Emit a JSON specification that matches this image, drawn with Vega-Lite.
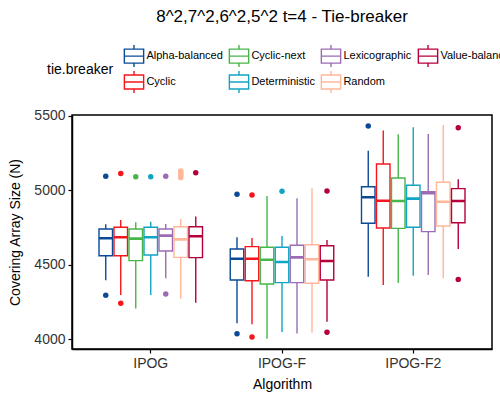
{
  "$schema": "https://vega.github.io/schema/vega-lite/v6.json",
  "width": 420,
  "height": 234,
  "autosize": {"type": "none"},
  "padding": {"left": 72, "top": 115, "right": 8, "bottom": 51},
  "title": {"text": "8^2,7^2,6^2,5^2 t=4 - Tie-breaker", "fontSize": 17, "fontWeight": "normal", "font": "Liberation Sans", "anchor": "middle", "frame": "group", "baseline": "alphabetic", "offset": 5, "color": "black"},
  "config": {
    "font": "Liberation Sans",
    "view": {"stroke": "black", "strokeWidth": 1.5},
    "axis": {"grid": false, "domainColor": "black", "domainWidth": 1.5, "tickColor": "black", "tickSize": 4, "tickWidth": 1.2, "labelFontSize": 14, "labelColor": "#333333", "titleFontSize": 14, "titleFontWeight": "normal", "titleColor": "black", "labelFont": "Liberation Sans", "titleFont": "Liberation Sans"}
  },
  "datasets": {
    "boxes": [
      {"algorithm": "IPOG", "tie": "Alpha-balanced", "lower": 4395, "q1": 4560, "median": 4677, "q3": 4740, "upper": 4771},
      {"algorithm": "IPOG", "tie": "Cyclic", "lower": 4296, "q1": 4560, "median": 4684, "q3": 4751, "upper": 4800},
      {"algorithm": "IPOG", "tie": "Cyclic-next", "lower": 4206, "q1": 4527, "median": 4675, "q3": 4740, "upper": 4785},
      {"algorithm": "IPOG", "tie": "Deterministic", "lower": 4296, "q1": 4565, "median": 4684, "q3": 4751, "upper": 4789},
      {"algorithm": "IPOG", "tie": "Lexicographic", "lower": 4408, "q1": 4592, "median": 4695, "q3": 4740, "upper": 4773},
      {"algorithm": "IPOG", "tie": "Random", "lower": 4271, "q1": 4549, "median": 4670, "q3": 4755, "upper": 4807},
      {"algorithm": "IPOG", "tie": "Value-balanced", "lower": 4244, "q1": 4547, "median": 4691, "q3": 4755, "upper": 4823},
      {"algorithm": "IPOG-F", "tie": "Alpha-balanced", "lower": 4106, "q1": 4397, "median": 4540, "q3": 4605, "upper": 4684},
      {"algorithm": "IPOG-F", "tie": "Cyclic", "lower": 4099, "q1": 4392, "median": 4540, "q3": 4621, "upper": 4679},
      {"algorithm": "IPOG-F", "tie": "Cyclic-next", "lower": 4002, "q1": 4370, "median": 4533, "q3": 4617, "upper": 4962},
      {"algorithm": "IPOG-F", "tie": "Deterministic", "lower": 4047, "q1": 4379, "median": 4518, "q3": 4617, "upper": 4693},
      {"algorithm": "IPOG-F", "tie": "Lexicographic", "lower": 4038, "q1": 4379, "median": 4549, "q3": 4630, "upper": 4946},
      {"algorithm": "IPOG-F", "tie": "Random", "lower": 4043, "q1": 4375, "median": 4536, "q3": 4634, "upper": 5013},
      {"algorithm": "IPOG-F", "tie": "Value-balanced", "lower": 4116, "q1": 4397, "median": 4525, "q3": 4627, "upper": 4666},
      {"algorithm": "IPOG-F2", "tie": "Alpha-balanced", "lower": 4419, "q1": 4778, "median": 4953, "q3": 5024, "upper": 5266},
      {"algorithm": "IPOG-F2", "tie": "Cyclic", "lower": 4363, "q1": 4746, "median": 4930, "q3": 5177, "upper": 5401},
      {"algorithm": "IPOG-F2", "tie": "Cyclic-next", "lower": 4377, "q1": 4744, "median": 4928, "q3": 5083, "upper": 5377},
      {"algorithm": "IPOG-F2", "tie": "Deterministic", "lower": 4426, "q1": 4751, "median": 4944, "q3": 5034, "upper": 5424},
      {"algorithm": "IPOG-F2", "tie": "Lexicographic", "lower": 4430, "q1": 4722, "median": 4980, "q3": 4991, "upper": 5379},
      {"algorithm": "IPOG-F2", "tie": "Random", "lower": 4408, "q1": 4760, "median": 4923, "q3": 5054, "upper": 5439},
      {"algorithm": "IPOG-F2", "tie": "Value-balanced", "lower": 4605, "q1": 4782, "median": 4928, "q3": 5011, "upper": 5074}
    ],
    "outliers": [
      {"algorithm": "IPOG", "tie": "Alpha-balanced", "value": 4294},
      {"algorithm": "IPOG", "tie": "Alpha-balanced", "value": 5094},
      {"algorithm": "IPOG", "tie": "Cyclic", "value": 4240},
      {"algorithm": "IPOG", "tie": "Cyclic", "value": 5112},
      {"algorithm": "IPOG", "tie": "Cyclic-next", "value": 5091},
      {"algorithm": "IPOG", "tie": "Deterministic", "value": 5091},
      {"algorithm": "IPOG", "tie": "Lexicographic", "value": 4303},
      {"algorithm": "IPOG", "tie": "Lexicographic", "value": 5094},
      {"algorithm": "IPOG", "tie": "Random", "value": 5085},
      {"algorithm": "IPOG", "tie": "Random", "value": 5097},
      {"algorithm": "IPOG", "tie": "Random", "value": 5108},
      {"algorithm": "IPOG", "tie": "Random", "value": 5120},
      {"algorithm": "IPOG", "tie": "Random", "value": 5130},
      {"algorithm": "IPOG", "tie": "Value-balanced", "value": 5118},
      {"algorithm": "IPOG-F", "tie": "Alpha-balanced", "value": 4036},
      {"algorithm": "IPOG-F", "tie": "Alpha-balanced", "value": 4973},
      {"algorithm": "IPOG-F", "tie": "Cyclic", "value": 4013},
      {"algorithm": "IPOG-F", "tie": "Cyclic", "value": 4968},
      {"algorithm": "IPOG-F", "tie": "Deterministic", "value": 4993},
      {"algorithm": "IPOG-F", "tie": "Value-balanced", "value": 4045},
      {"algorithm": "IPOG-F", "tie": "Value-balanced", "value": 4995},
      {"algorithm": "IPOG-F2", "tie": "Alpha-balanced", "value": 5432},
      {"algorithm": "IPOG-F2", "tie": "Value-balanced", "value": 5421},
      {"algorithm": "IPOG-F2", "tie": "Value-balanced", "value": 4401}
    ]
  },
  "encoding": {
    "x": {"field": "algorithm", "type": "nominal", "title": "Algorithm",
          "scale": {"domain": ["IPOG", "IPOG-F", "IPOG-F2"], "paddingInner": 0, "paddingOuter": 0.1},
          "axis": {"labelAngle": 0, "labelPadding": 3, "titlePadding": 7}},
    "xOffset": {"field": "tie", "type": "nominal",
          "scale": {"domain": ["Alpha-balanced", "Cyclic", "Cyclic-next", "Deterministic", "Lexicographic", "Random", "Value-balanced"], "paddingInner": 0.1, "paddingOuter": 0.925}}
  },
  "layer": [
    {
      "data": {"name": "boxes"},
      "mark": {"type": "rule", "strokeWidth": 1.4},
      "encoding": {
        "y": {"field": "lower", "type": "quantitative", "title": "Covering Array Size (N)",
              "scale": {"domain": [3933, 5506], "nice": false, "zero": false},
              "axis": {"values": [4000, 4500, 5000, 5500], "format": "d", "labelPadding": 3, "titlePadding": 11}},
        "y2": {"field": "upper"},
        "stroke": {"field": "tie", "type": "nominal", "legend": null,
                   "scale": {"domain": ["Alpha-balanced", "Cyclic", "Cyclic-next", "Deterministic", "Lexicographic", "Random", "Value-balanced"],
                             "range": ["#0a4a96", "#f5161b", "#47b548", "#12a4c3", "#9b6cb4", "#ffb799", "#b5003a"]}}
      }
    },
    {
      "data": {"name": "boxes"},
      "mark": {"type": "bar", "filled": false, "fill": "white", "strokeWidth": 1.4},
      "encoding": {
        "y": {"field": "q1", "type": "quantitative"},
        "y2": {"field": "q3"},
        "color": {"field": "tie", "type": "nominal", "title": "tie.breaker",
                  "scale": {"domain": ["Alpha-balanced", "Cyclic-next", "Lexicographic", "Value-balanced", "Cyclic", "Deterministic", "Random"],
                            "range": ["#0a4a96", "#47b548", "#9b6cb4", "#b5003a", "#f5161b", "#12a4c3", "#ffb799"]},
                  "legend": {"orient": "none", "legendX": -25, "legendY": -71, "columns": 4, "direction": "horizontal",
                             "titleOrient": "left", "titleAnchor": "middle", "titleBaseline": "middle", "titleFontSize": 14, "titleFontWeight": "normal", "titleColor": "black", "titlePadding": 8,
                             "labelFontSize": 11, "labelColor": "black", "labelOffset": 0.4, "columnPadding": 3, "rowPadding": -11, "padding": 0,
                             "symbolType": "M-0.877,-0.636H0.877V0.636H-0.877Z M-0.877,0H0.877 M0,-0.636V-1 M0,0.636V1",
                             "symbolSize": 484, "symbolStrokeWidth": 1.4, "symbolFillColor": "white", "symbolOpacity": 1}}
      }
    },
    {
      "data": {"name": "boxes"},
      "mark": {"type": "bar", "filled": false, "strokeWidth": 2.6},
      "encoding": {
        "y": {"field": "median", "type": "quantitative"},
        "y2": {"field": "median"},
        "stroke": {"field": "tie", "type": "nominal", "legend": null}
      }
    },
    {
      "data": {"name": "outliers"},
      "mark": {"type": "point", "filled": true, "opacity": 1, "size": 30, "strokeWidth": 0},
      "encoding": {
        "y": {"field": "value", "type": "quantitative"},
        "fill": {"field": "tie", "type": "nominal", "legend": null,
                 "scale": {"domain": ["Alpha-balanced", "Cyclic", "Cyclic-next", "Deterministic", "Lexicographic", "Random", "Value-balanced"],
                           "range": ["#0a4a96", "#f5161b", "#47b548", "#12a4c3", "#9b6cb4", "#ffb799", "#b5003a"]}}
      }
    }
  ]
}
